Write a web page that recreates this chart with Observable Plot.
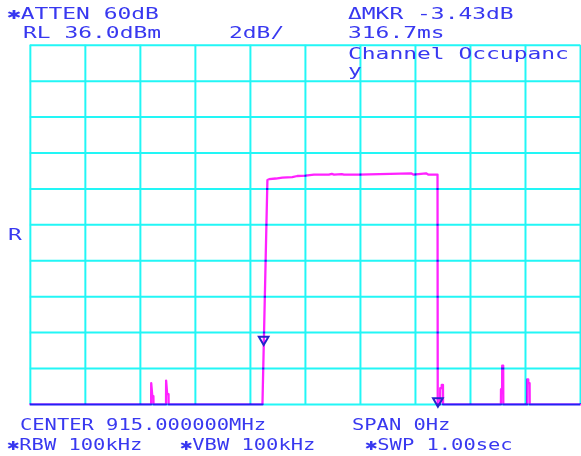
<!DOCTYPE html>
<html>
<head>
<meta charset="utf-8">
<script src="https://cdn.jsdelivr.net/npm/d3@7"></script>
<script src="https://cdn.jsdelivr.net/npm/@observablehq/plot@0.6"></script>
<style>
  html, body { margin: 0; background: #fff; }
  #screen { position: relative; width: 581px; height: 456px; overflow: hidden; background: #fff; }
  #screen svg { position: absolute; left: 0; top: 0; }
  #screen g[aria-label="line"] { mix-blend-mode: multiply; }
  .ann {
    position: absolute; white-space: pre;
    font-family: "DejaVu Sans Mono", monospace; font-size: 16px; line-height: 13px;
    color: #3838f0; transform-origin: 0 0;
  }
</style>
</head>
<body>
<div id="screen"></div>
<script>
// Zero-span sweep: time into the 1 s sweep and displayed level (dBm)
const traceTime = [
  0,
  0.2195, 0.2197, 0.2217, 0.2237, 0.2239,
  0.2466, 0.2468, 0.2487, 0.2512, 0.2514,
  0.4219, 0.4309, 0.4340, 0.4461, 0.4580, 0.4761, 0.4852, 0.5004, 0.5154,
  0.5425, 0.5480, 0.5520, 0.5660, 0.5700, 0.5967, 0.6920, 0.6960, 0.7192, 0.7230, 0.7401,
  0.7405,
  0.7448, 0.7450, 0.7476, 0.7478, 0.7500, 0.7502,
  0.8553, 0.8555, 0.8575, 0.8577, 0.8595, 0.8597,
  0.9030, 0.9032, 0.9050, 0.9052, 0.9075, 0.9077,
  1
];
const traceLevel = [
  16,
  16, 17.18, 16.46, 16.46, 16,
  16, 17.33, 16.57, 16.57, 16,
  16, 28.50, 28.54, 28.58, 28.63, 28.66, 28.72, 28.74, 28.80,
  28.80, 28.84, 28.80, 28.83, 28.80, 28.80, 28.87, 28.80, 28.87, 28.80, 28.80,
  16,
  16, 16.91, 16.91, 17.09, 17.09, 16,
  16, 16.85, 16.85, 18.16, 18.16, 16,
  16, 17.40, 17.40, 17.18, 17.18, 16,
  16
];

// Marker and delta marker
const markerTime = [0.4241, 0.7408];
const markerLevel = [19.45, 16.02];

// Graticule: 10 divisions of 0.1 s, 2 dB/div below a 36 dBm reference level
const timeTicks = [0, 0.1, 0.2, 0.3, 0.4, 0.5, 0.6, 0.7, 0.8, 0.9, 1.0];
const levelTicks = [16, 18, 20, 22, 24, 26, 28, 30, 32, 34, 36];

// Annotation strings
const headerText = ["\u2731ATTEN 60dB", "RL 36.0dBm", "2dB/", "\u0394MKR -3.43dB", "316.7ms"];
const titleText = ["Channel Occupanc", "y"];
const refText = ["R"];
const footerText = ["CENTER 915.000000MHz", "SPAN 0Hz", "\u2731RBW 100kHz", "\u2731VBW 100kHz", "\u2731SWP 1.00sec"];

const trace = traceTime.map((t, i) => ({t, dBm: traceLevel[i]}));
const markers = markerTime.map((t, i) => ({t, dBm: markerLevel[i]}));

const cyan = "#22f6f6";
const magenta = "#ff22ff";
const markBlue = "#2424cc";

const chart = Plot.plot({
  width: 584,
  height: 456,
  marginLeft: 30,
  marginRight: 1,
  marginTop: 45,
  marginBottom: 50,
  style: {background: "transparent"},
  x: {domain: [0, 1], axis: null},
  y: {domain: [16, 36], axis: null},
  marks: [
    Plot.ruleX(timeTicks, {stroke: cyan, strokeWidth: 2}),
    Plot.ruleY(levelTicks, {stroke: cyan, strokeWidth: 2}),
    Plot.line(trace, {x: "t", y: "dBm", stroke: magenta, strokeWidth: 2.3, curve: "linear"}),
    Plot.dot(markers, {x: "t", y: "dBm", symbol: "triangle", rotate: 180, r: 3.6, dy: -3,
      stroke: markBlue, strokeWidth: 2, fill: "none"})
  ]
});
const screen = document.getElementById("screen");
screen.appendChild(chart);

// Instrument annotations: [text, left, baseline, horizontal stretch]
const HDR = 1.433, FTR = 1.277;
const BASELINE_OFFSET = 12.04; // baseline below the box top for 16px text in a 13px line
const layout = [
  [headerText[0], 7, 19, HDR],
  [headerText[1], 22.5, 37.7, HDR],
  [headerText[2], 228.5, 37.7, HDR],
  [headerText[3], 348, 19, HDR],
  [headerText[4], 348, 37.7, HDR],
  [titleText[0], 348, 59.3, HDR],
  [titleText[1], 348, 76.5, HDR],
  [refText[0], 7.5, 240, HDR],
  [footerText[0], 20.3, 430, FTR],
  [footerText[1], 352, 430, FTR],
  [footerText[2], 7, 450, FTR],
  [footerText[3], 180.3, 450, FTR],
  [footerText[4], 365.3, 450, FTR]
];
for (const [text, left, base, k] of layout) {
  const s = document.createElement("div");
  s.className = "ann";
  s.textContent = text;
  s.style.left = left + "px";
  s.style.top = (base - BASELINE_OFFSET) + "px";
  s.style.transform = `scaleX(${k})`;
  screen.appendChild(s);
}
</script>
</body>
</html>
